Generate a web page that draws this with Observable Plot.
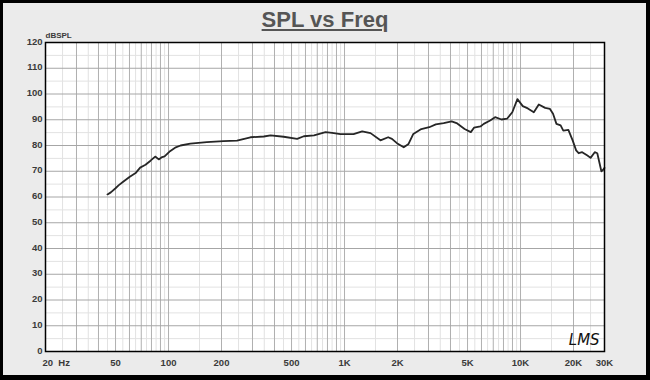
<!DOCTYPE html>
<html>
<head>
<meta charset="utf-8">
<script src="https://cdn.jsdelivr.net/npm/d3@7"></script>
<script src="https://cdn.jsdelivr.net/npm/@observablehq/plot@0.6"></script>
<style>
  html, body { margin: 0; padding: 0; background: #ebebeb; }
  body { width: 650px; height: 380px; position: relative; overflow: hidden; font-family: "Liberation Sans", Arial, sans-serif; }
  #frame { position: absolute; left: 0; top: 0; width: 650px; height: 380px; box-sizing: border-box;
           border-style: solid; border-color: #000; border-width: 3px 4px 5px 3px; background: #ebebeb; }
  #title { position: absolute; left: 0; top: 7px; width: 650px; text-align: center; font-size: 22px; line-height: 26px;
           font-weight: bold; color: #555; text-decoration: underline; text-underline-offset: 2px; margin: 0; }
  #chart { position: absolute; left: 0; top: 30px; }
</style>
</head>
<body>
<div id="frame"></div>
<h1 id="title">SPL vs Freq</h1>
<div id="chart"></div>
<script>
// Frequency response (Hz, dB SPL)
const freq = [45, 47, 50, 52, 55, 60, 65, 69, 74, 79, 84, 88, 92, 95, 102, 110, 117, 133, 165, 205, 245, 292, 348, 380, 451, 538, 587, 671, 780, 850, 948, 1125, 1260, 1405, 1600, 1770, 1860, 1985, 2170, 2310, 2460, 2730, 3030, 3300, 3660, 4060, 4330, 4810, 5220, 5440, 5920, 6180, 6720, 7170, 7800, 8380, 8980, 9600, 10300, 11000, 11900, 12700, 13800, 14700, 15300, 16000, 16900, 17500, 18700, 19800, 20700, 21400, 22400, 24000, 25000, 26400, 27300, 28800, 29400, 30000];
const spl = [61.0, 61.8, 63.4, 64.5, 65.8, 67.8, 69.3, 71.4, 72.5, 74.1, 75.7, 74.6, 75.5, 75.8, 77.8, 79.3, 80.0, 80.7, 81.3, 81.7, 81.9, 83.2, 83.5, 83.9, 83.4, 82.6, 83.6, 83.9, 85.2, 84.9, 84.4, 84.4, 85.5, 84.8, 82.0, 83.2, 82.6, 80.9, 79.3, 80.6, 84.5, 86.4, 87.1, 88.2, 88.7, 89.4, 88.7, 86.4, 85.2, 86.9, 87.4, 88.4, 89.7, 91.0, 90.1, 90.4, 92.9, 98.0, 95.3, 94.4, 92.9, 95.9, 94.6, 94.2, 92.3, 88.4, 87.8, 85.8, 86.1, 81.9, 78.1, 77.0, 77.4, 76.1, 75.2, 77.4, 77.0, 70.0, 70.5, 71.3];

// Axis labels
const xFirstTick = 20;
const xFirstLabel = "20  Hz";
const xTickValues = [50, 100, 200, 500, 1000, 2000, 5000, 10000, 20000, 30000];
const xTickLabels = ["50", "100", "200", "500", "1K", "2K", "5K", "10K", "20K", "30K"];
const yTickValues = [0, 10, 20, 30, 40, 50, 60, 70, 80, 90, 100, 110, 120];
const yUnit = "dBSPL";
const logoText = "LMS";

// Grid positions (log decades)
const decades = [10, 100, 1000, 10000];
const majorMult = [2, 3, 4, 5, 6, 7, 8, 9, 10];
const minorMult = [1.5, 2.5, 3.5, 4.5, 5.5, 6.5, 7.5, 8.5, 9.5];
const inRange = f => f >= 20 && f <= 30000;
const gridMajorX = decades.flatMap(d => majorMult.map(m => m * d)).filter(inRange);
const gridMinorX = decades.flatMap(d => minorMult.map(m => m * d)).filter(f => f > 20 && f < 30000);
const gridMajorY = [10, 20, 30, 40, 50, 60, 70, 80, 90, 100, 110];
const gridMinorY = [5, 15, 25, 35, 45, 55, 65, 75, 85, 95, 105, 115];

const data = freq.map((f, i) => ({f, v: spl[i]}));
const xTicks = xTickValues.map((f, i) => ({f, label: xTickLabels[i]}));

const labelStyle = {fontSize: 9.5, fontWeight: "bold", fill: "#3a3a3a"};

const chart = Plot.plot({
  width: 650,
  height: 340,
  marginLeft: 45,
  marginRight: 46,
  marginTop: 12,
  marginBottom: 19,
  style: {background: "transparent", fontFamily: "'Liberation Sans', Arial, sans-serif"},
  x: {type: "log", domain: [20, 30000], axis: null},
  y: {domain: [0, 120], axis: null},
  marks: [
    Plot.frame({fill: "white", stroke: null}),
    Plot.ruleX(gridMinorX, {stroke: "#e2e2e2", strokeWidth: 1}),
    Plot.ruleY(gridMinorY, {stroke: "#e2e2e2", strokeWidth: 1}),
    Plot.ruleX(gridMajorX, {stroke: "#b0b0b0", strokeWidth: 1}),
    Plot.ruleY(gridMajorY, {stroke: "#a6a6a6", strokeWidth: 1}),
    Plot.line(data, {x: "f", y: "v", stroke: "#262626", strokeWidth: 1.8, strokeLinejoin: "round"}),
    Plot.frame({stroke: "#000", strokeWidth: 1.5}),
    Plot.text(yTickValues, {x: 20, y: d => d, text: d => String(d), textAnchor: "end", dx: -3, dy: -1, ...labelStyle}),
    Plot.text(xTicks, {x: "f", y: 0, text: "label", dy: 8, lineAnchor: "top", ...labelStyle}),
    Plot.text([xFirstLabel], {x: xFirstTick, y: 0, text: d => d, dy: 8, dx: -3, lineAnchor: "top", textAnchor: "start", ...labelStyle}),
    Plot.text([yUnit], {x: 20, y: 120, text: d => d, textAnchor: "start", dy: -7, fontSize: 8, fontWeight: "bold", fill: "#3a3a3a"}),
    Plot.text([logoText], {x: 23000, y: 4.5, text: d => d, fontSize: 15, fontStyle: "italic",
      fontFamily: "'DejaVu Sans', sans-serif", fill: "#111", letterSpacing: "1px"})
  ]
});
document.getElementById("chart").appendChild(chart);
</script>
</body>
</html>
